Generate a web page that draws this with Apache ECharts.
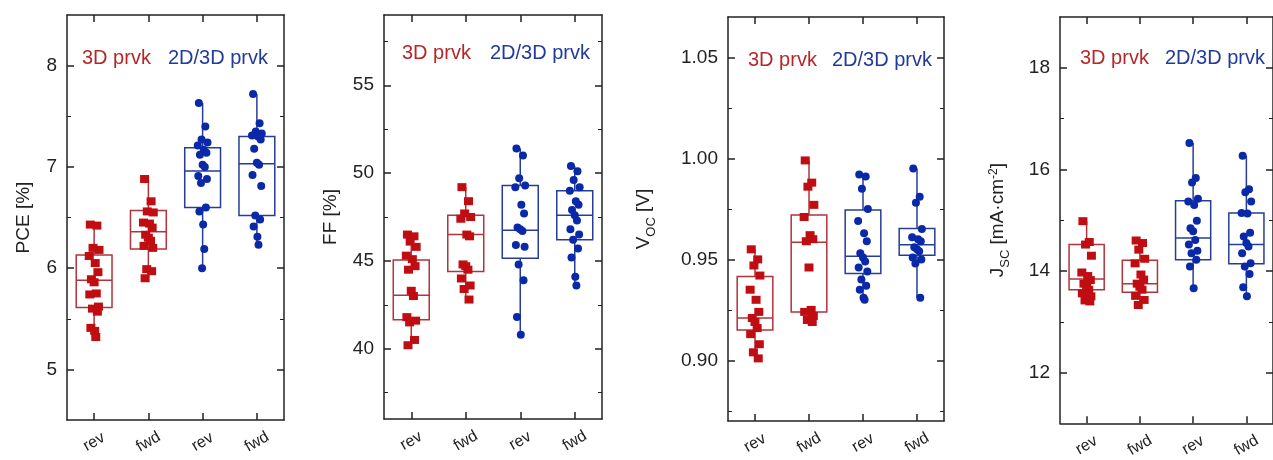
<!DOCTYPE html>
<html>
<head>
<meta charset="utf-8">
<script src="https://cdn.jsdelivr.net/npm/echarts@6/dist/echarts.min.js"></script>
<style>
html, body { margin: 0; padding: 0; background: #fff; }
#chart { width: 1273px; height: 460px; }
</style>
</head>
<body>
<div id="chart"></div>
<script>
// ---- data ----
var categories = ['rev', 'fwd', 'rev', 'fwd'];

// PCE [%]
var pceRev3D = [6.43, 6.42, 6.20, 6.18, 6.12, 6.05, 5.96, 5.89, 5.86, 5.75, 5.74, 5.62, 5.60, 5.57, 5.41, 5.38, 5.32];
var pceFwd3D = [6.88, 6.66, 6.56, 6.55, 6.45, 6.44, 6.40, 6.33, 6.30, 6.27, 6.22, 6.20, 5.99, 5.97, 5.90];
var pceRev2D = [7.63, 7.40, 7.27, 7.24, 7.21, 7.17, 7.14, 7.12, 7.02, 7.00, 6.91, 6.88, 6.84, 6.60, 6.56, 6.43, 6.19, 6.00];
var pceFwd2D = [7.72, 7.43, 7.35, 7.33, 7.31, 7.30, 7.27, 7.18, 7.04, 7.02, 6.92, 6.81, 6.52, 6.48, 6.41, 6.31, 6.23];
// [low, q1, median, q3, high]
var pceBoxes = [[5.32, 5.61, 5.88, 6.13, 6.43], [5.90, 6.19, 6.36, 6.57, 6.88], [6.00, 6.60, 6.96, 7.19, 7.63], [6.23, 6.52, 7.03, 7.30, 7.72]];
var pceTicks = [5, 6, 7, 8];
var pceMinor = [5.5, 6.5, 7.5];

// FF [%]
var ffRev3D = [46.5, 46.4, 46.1, 45.8, 45.3, 45.1, 44.7, 44.5, 43.3, 43.0, 41.8, 41.6, 41.5, 40.5, 40.2];
var ffFwd3D = [49.2, 48.4, 47.7, 47.5, 47.4, 46.5, 46.4, 44.8, 44.7, 44.5, 44.0, 43.6, 43.4, 42.8];
var ffRev2D = [51.4, 51.0, 49.7, 49.3, 49.2, 48.2, 47.7, 46.9, 46.8, 46.7, 45.9, 45.8, 44.8, 43.9, 41.8, 40.8];
var ffFwd2D = [50.4, 50.1, 49.6, 49.2, 49.0, 48.4, 48.2, 47.9, 47.6, 47.3, 46.8, 46.5, 46.2, 45.7, 45.2, 44.1, 43.6];
var ffBoxes = [[40.2, 41.65, 43.05, 45.05, 46.5], [42.8, 44.4, 46.5, 47.6, 49.2], [40.8, 45.15, 46.75, 49.3, 51.4], [43.6, 46.2, 47.6, 49.0, 50.4]];
var ffTicks = [40, 45, 50, 55];
var ffMinor = [37.5, 42.5, 47.5, 52.5, 57.5];

// VOC [V]
var vocRev3D = [0.955, 0.950, 0.947, 0.942, 0.935, 0.930, 0.924, 0.921, 0.919, 0.916, 0.913, 0.908, 0.904, 0.901];
var vocFwd3D = [0.999, 0.988, 0.986, 0.977, 0.971, 0.962, 0.960, 0.959, 0.946, 0.925, 0.924, 0.922, 0.920, 0.919];
var vocRev2D = [0.992, 0.991, 0.985, 0.975, 0.969, 0.963, 0.959, 0.953, 0.951, 0.949, 0.946, 0.944, 0.940, 0.937, 0.935, 0.931, 0.930];
var vocFwd2D = [0.995, 0.981, 0.978, 0.965, 0.961, 0.960, 0.959, 0.956, 0.955, 0.954, 0.951, 0.950, 0.948, 0.931];
var vocBoxes = [[0.901, 0.915, 0.921, 0.9415, 0.955], [0.919, 0.924, 0.9585, 0.972, 0.999], [0.930, 0.943, 0.9515, 0.9745, 0.992], [0.931, 0.952, 0.9573, 0.9653, 0.995]];
var vocTicks = [0.90, 0.95, 1.00, 1.05];
var vocMinor = [0.875, 0.925, 0.975, 1.025];

// JSC [mA cm-2]
var jscRev3D = [14.98, 14.57, 14.52, 14.30, 13.97, 13.90, 13.82, 13.75, 13.70, 13.63, 13.56, 13.50, 13.42, 13.40];
var jscFwd3D = [14.60, 14.55, 14.42, 14.24, 14.15, 13.93, 13.83, 13.75, 13.69, 13.63, 13.51, 13.43, 13.33];
var jscRev2D = [16.52, 15.83, 15.74, 15.42, 15.37, 15.30, 14.99, 14.84, 14.78, 14.61, 14.52, 14.40, 14.35, 14.22, 14.09, 13.66];
var jscFwd2D = [16.27, 15.61, 15.55, 15.37, 15.14, 15.13, 14.75, 14.68, 14.55, 14.48, 14.35, 14.15, 14.09, 13.94, 13.68, 13.50];
var jscBoxes = [[13.40, 13.63, 13.84, 14.52, 14.98], [13.33, 13.58, 13.75, 14.21, 14.60], [13.66, 14.22, 14.65, 15.38, 16.52], [13.50, 14.14, 14.52, 15.14, 16.27]];
var jscTicks = [12, 14, 16, 18];
var jscMinor = [13, 15, 17];

// ---- look ----
var RED = '#c00d12', BLUE = '#0a29a8';
var RED_LINE = '#b0343a', BLUE_LINE = '#263d96';
var RED_TXT = '#b5282a', BLUE_TXT = '#213a9c';
var FONT = 'Liberation Sans';
var AXIS_COL = '#222';

// small horizontal scatter so points don't sit on one line
var jit = [-0.07, 0.05, -0.02, 0.09, -0.09, 0.02, 0.07, -0.05, 0.0, 0.04, -0.08, 0.08, -0.03, 0.06, -0.06, 0.01, 0.03, -0.01];

var panels = [
  { grid: { left: 67, top: 15, width: 217, height: 405 }, min: 4.5, max: 8.5, ticks: pceTicks, minor: pceMinor,
    groups: [pceRev3D, pceFwd3D, pceRev2D, pceFwd2D], boxes: pceBoxes, dec: 0,
    name: 'PCE [%]', nameGap: 34, leg: [82, 168, 58] },
  { grid: { left: 384, top: 15, width: 218, height: 404 }, min: 36, max: 59, ticks: ffTicks, minor: ffMinor,
    groups: [ffRev3D, ffFwd3D, ffRev2D, ffFwd2D], boxes: ffBoxes, dec: 0,
    name: 'FF [%]', nameGap: 44, leg: [402, 490, 53] },
  { grid: { left: 728, top: 17, width: 216, height: 404 }, min: 0.87, max: 1.07, ticks: vocTicks, minor: vocMinor,
    groups: [vocRev3D, vocFwd3D, vocRev2D, vocFwd2D], boxes: vocBoxes, dec: 2,
    name: '{v|V}{s|OC}{v| [V]}', nameGap: 70, leg: [748, 832, 60] },
  { grid: { left: 1060, top: 17, width: 219, height: 407 }, min: 11, max: 19, ticks: jscTicks, minor: jscMinor,
    groups: [jscRev3D, jscFwd3D, jscRev2D, jscFwd2D], boxes: jscBoxes, dec: 0,
    name: '{v|J}{s|SC}{v| [mA·cm}{p|-2}{v|]}', nameGap: 48, leg: [1080, 1165, 58] }
];

function renderBox(params, api) {
  var x = api.value(0);
  var lo = api.coord([x, api.value(1)]);
  var q1 = api.coord([x, api.value(2)]);
  var md = api.coord([x, api.value(3)]);
  var q3 = api.coord([x, api.value(4)]);
  var hi = api.coord([x, api.value(5)]);
  var hw = api.size([1, 0])[0] * 0.33;
  var st = { stroke: x < 2 ? RED_LINE : BLUE_LINE, lineWidth: 1.5, fill: 'none' };
  return {
    type: 'group',
    children: [
      { type: 'line', shape: { x1: lo[0], y1: lo[1], x2: q1[0], y2: q1[1] }, style: st },
      { type: 'line', shape: { x1: q3[0], y1: q3[1], x2: hi[0], y2: hi[1] }, style: st },
      { type: 'rect', shape: { x: q3[0] - hw, y: q3[1], width: hw * 2, height: q1[1] - q3[1] }, style: st },
      { type: 'line', shape: { x1: md[0] - hw, y1: md[1], x2: md[0] + hw, y2: md[1] }, style: st }
    ]
  };
}

var grids = [], xAxes = [], yAxes = [], series = [], graphics = [];

panels.forEach(function (p, g) {
  grids.push(p.grid);
  var line = { show: true, onZero: false, lineStyle: { color: AXIS_COL, width: 1.5 } };
  var noLine = { show: false, onZero: false };
  var catTick = { show: true, inside: true, alignWithLabel: true, interval: 0, length: 7, lineStyle: { color: AXIS_COL, width: 1.5 } };
  var fmt = function (v) { return Number(v).toFixed(p.dec); };

  // bottom categories (frame bottom), top ticks (frame top), hidden value axis for the marks
  xAxes.push({ type: 'category', gridIndex: g, data: categories, boundaryGap: true, position: 'bottom',
    axisLine: line, axisTick: catTick,
    axisLabel: { rotate: 30, align: 'center', verticalAlign: 'middle', margin: 22, fontSize: 16, fontFamily: FONT, color: AXIS_COL },
    splitLine: { show: false } });
  xAxes.push({ type: 'category', gridIndex: g, data: categories, boundaryGap: true, position: 'top',
    axisLine: line, axisTick: catTick,
    axisLabel: { show: false }, splitLine: { show: false } });
  xAxes.push({ type: 'value', gridIndex: g, min: -0.5, max: 3.5, show: false, axisLine: noLine });

  var major = { show: true, inside: true, length: 7, customValues: p.ticks, lineStyle: { color: AXIS_COL, width: 1.5 } };
  var minorT = { show: true, inside: true, length: 4, customValues: p.minor, lineStyle: { color: AXIS_COL, width: 1 } };
  yAxes.push({ type: 'value', gridIndex: g, min: p.min, max: p.max, position: 'left',
    axisLine: line, axisTick: major, splitLine: { show: false },
    axisLabel: { customValues: p.ticks, formatter: fmt, fontSize: 19, fontFamily: FONT, color: AXIS_COL, margin: 10 },
    name: p.name, nameLocation: 'middle', nameGap: p.nameGap, nameRotate: 90,
    nameTextStyle: { fontSize: 19, fontFamily: FONT, color: AXIS_COL,
      rich: {
        v: { fontSize: 19, fontFamily: FONT, color: AXIS_COL, verticalAlign: 'top', lineHeight: 24 },
        s: { fontSize: 13, fontFamily: FONT, color: AXIS_COL, verticalAlign: 'bottom', lineHeight: 13 },
        p: { fontSize: 12, fontFamily: FONT, color: AXIS_COL, verticalAlign: 'top', lineHeight: 12 }
      } } });
  yAxes.push({ type: 'value', gridIndex: g, min: p.min, max: p.max, position: 'left',
    axisLine: noLine, axisTick: minorT, axisLabel: { show: false }, splitLine: { show: false } });
  yAxes.push({ type: 'value', gridIndex: g, min: p.min, max: p.max, position: 'right',
    axisLine: line, axisTick: major, axisLabel: { show: false }, splitLine: { show: false } });
  yAxes.push({ type: 'value', gridIndex: g, min: p.min, max: p.max, position: 'right',
    axisLine: noLine, axisTick: minorT, axisLabel: { show: false }, splitLine: { show: false } });

  series.push({
    type: 'custom', xAxisIndex: 3 * g + 2, yAxisIndex: 4 * g, renderItem: renderBox, z: 2,
    encode: { x: 0, y: [1, 2, 3, 4, 5] },
    data: p.boxes.map(function (b, i) { return [i].concat(b); })
  });
  p.groups.forEach(function (vals, ci) {
    var is3D = ci < 2;
    series.push({
      type: 'scatter', xAxisIndex: 3 * g + 2, yAxisIndex: 4 * g, z: 3,
      symbol: is3D ? 'rect' : 'circle', symbolSize: is3D ? [9, 8] : 8,
      itemStyle: { color: is3D ? RED : BLUE, opacity: 1 },
      data: vals.map(function (v, i) { return [ci + jit[i % jit.length], v]; })
    });
  });

  graphics.push({ type: 'text', x: p.leg[0], y: p.leg[2],
    style: { text: '3D prvk', fill: RED_TXT, font: '20px ' + FONT, verticalAlign: 'middle' } });
  graphics.push({ type: 'text', x: p.leg[1], y: p.leg[2],
    style: { text: '2D/3D prvk', fill: BLUE_TXT, font: '20px ' + FONT, verticalAlign: 'middle' } });
});

var chart = echarts.init(document.getElementById('chart'));
chart.setOption({
  animation: false,
  backgroundColor: '#fff',
  grid: grids,
  xAxis: xAxes,
  yAxis: yAxes,
  series: series,
  graphic: graphics
});
</script>
</body>
</html>
